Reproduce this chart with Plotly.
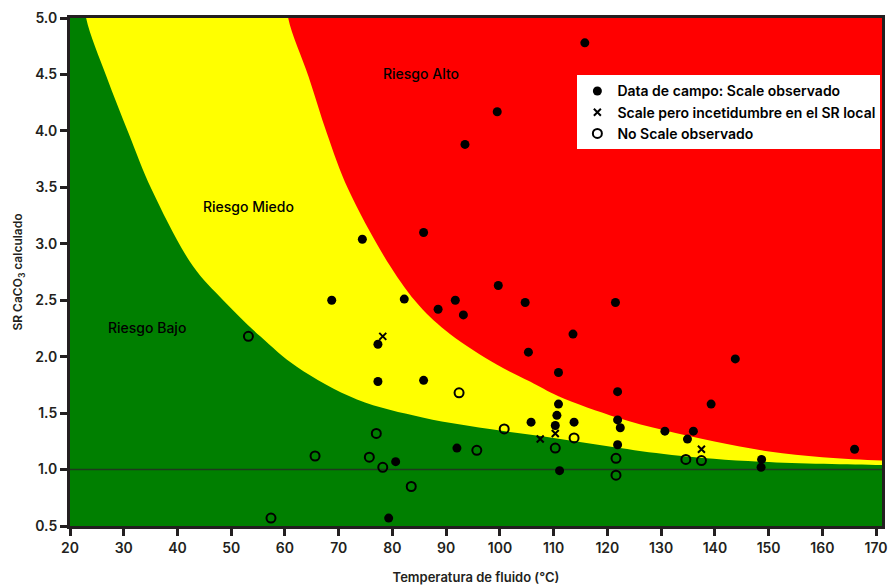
import plotly.graph_objects as go

# Field data: temperature (°C) vs calculated CaCO3 saturation ratio
scale_x = [115.8, 99.5, 93.5, 85.8, 74.4, 68.7, 82.2, 91.7, 88.5, 93.2, 99.7, 104.7,
           121.5, 113.6, 105.3, 77.3, 143.8, 110.9, 77.3, 85.8, 121.9, 139.3, 110.9,
           110.6, 105.8, 113.8, 110.3, 121.9, 122.4, 130.7, 136.0, 134.9, 121.9, 92.0,
           80.6, 111.1, 148.7, 148.6, 166.0, 79.3]
scale_y = [4.78, 4.17, 3.88, 3.10, 3.04, 2.50, 2.51, 2.50, 2.42, 2.37, 2.63, 2.48,
           2.48, 2.20, 2.04, 2.11, 1.98, 1.86, 1.78, 1.79, 1.69, 1.58, 1.58,
           1.48, 1.42, 1.42, 1.39, 1.44, 1.37, 1.34, 1.34, 1.27, 1.22, 1.19,
           1.07, 0.99, 1.09, 1.02, 1.18, 0.57]

uncertain_x = [78.2, 107.5, 110.3, 137.5]
uncertain_y = [2.18, 1.27, 1.32, 1.18]

noscale_x = [53.2, 57.4, 65.6, 77.0, 75.7, 78.2, 83.5, 92.4, 95.7, 100.8, 110.3, 113.8,
             121.6, 121.6, 134.6, 137.5]
noscale_y = [2.18, 0.57, 1.12, 1.32, 1.11, 1.02, 0.85, 1.68, 1.17, 1.36, 1.19, 1.28,
             1.10, 0.95, 1.09, 1.08]

# Risk-zone boundaries
low_bound_x = [23.0, 26.8, 30.9, 35.2, 42.9, 48.5, 55.4, 62.2, 73.4, 85.8, 99.4,
               110.0, 121.0, 132.0, 148.4, 172.0]
low_bound_y = [5.00, 4.48, 3.98, 3.48, 2.80, 2.50, 2.18, 1.91, 1.62, 1.46, 1.35,
               1.28, 1.20, 1.13, 1.07, 1.04]
high_bound_x = [60.6, 64.4, 67.8, 71.8, 79.6, 85.0, 90.7, 99.4, 105.6, 110.9, 121.9,
                130.4, 139.7, 150.1, 160.0, 172.0]
high_bound_y = [5.00, 4.48, 3.98, 3.48, 2.80, 2.45, 2.20, 1.93, 1.78, 1.65, 1.46,
                1.35, 1.25, 1.16, 1.11, 1.08]

SR_EQUILIBRIUM = 1.0
X_RANGE = [20, 171.1]
Y_RANGE = [0.5, 5.0]
X_TICKS = list(range(20, 171, 10))
Y_TICKS = [0.5, 1.0, 1.5, 2.0, 2.5, 3.0, 3.5, 4.0, 4.5, 5.0]

zone_labels = ["Riesgo Alto", "Riesgo Miedo", "Riesgo Bajo"]
zone_label_x = [85.3, 53.3, 34.3]
zone_label_y = [4.51, 3.33, 2.26]

GREEN = "#007f00"
YELLOW = "#ffff00"
RED = "#ff0000"
INK = "#231f20"
FONT = "Inter"
TOP = 5.3

fig = go.Figure()

# Yellow zone: between top edge and lower boundary
fig.add_trace(go.Scatter(x=[low_bound_x[0], 180], y=[TOP, TOP], mode="lines",
                         line=dict(width=0), showlegend=False, hoverinfo="skip"))
fig.add_trace(go.Scatter(x=[low_bound_x[0] - 0.6] + low_bound_x + [180],
                         y=[TOP] + low_bound_y + [low_bound_y[-1]],
                         mode="lines", line=dict(width=0, shape="spline", smoothing=1.0),
                         fill="tonexty", fillcolor=YELLOW, showlegend=False, hoverinfo="skip"))
# Red zone: between top edge and upper boundary
fig.add_trace(go.Scatter(x=[high_bound_x[0], 180], y=[TOP, TOP], mode="lines",
                         line=dict(width=0), showlegend=False, hoverinfo="skip"))
fig.add_trace(go.Scatter(x=[high_bound_x[0] - 0.5] + high_bound_x + [180],
                         y=[TOP] + high_bound_y + [high_bound_y[-1]],
                         mode="lines", line=dict(width=0, shape="spline", smoothing=1.0),
                         fill="tonexty", fillcolor=RED, showlegend=False, hoverinfo="skip"))

# SR = 1 reference line
fig.add_trace(go.Scatter(x=[10, 180], y=[SR_EQUILIBRIUM, SR_EQUILIBRIUM], mode="lines",
                         line=dict(color="#1e3a1e", width=1.5), showlegend=False,
                         hoverinfo="skip"))

fig.add_trace(go.Scatter(x=scale_x, y=scale_y, mode="markers",
                         name="Data de campo: Scale observado", legendgroup="a",
                         marker=dict(symbol="circle", size=9, color="black")))
fig.add_trace(go.Scatter(x=uncertain_x, y=uncertain_y, mode="markers",
                         name="Scale pero incetidumbre en el SR local", legendgroup="b",
                         marker=dict(symbol="x-thin", size=7, color="black",
                                     line=dict(width=2, color="black"))))
fig.add_trace(go.Scatter(x=noscale_x, y=noscale_y, mode="markers",
                         name="No Scale observado", legendgroup="c",
                         marker=dict(symbol="circle-open", size=9, color="black",
                                     line=dict(width=2, color="black"))))

for txt, lx, ly in zip(zone_labels, zone_label_x, zone_label_y):
    fig.add_annotation(x=lx, y=ly, text=txt, showarrow=False,
                       font=dict(family=FONT, size=14, color="black", weight=500))

axis_common = dict(showline=True, linecolor=INK, linewidth=3, mirror=True,
                   ticks="outside", ticklen=7, tickwidth=3, tickcolor=INK,
                   showgrid=False, zeroline=False, automargin=False,
                   tickfont=dict(family=FONT, size=14, color=INK, weight=600))

fig.update_xaxes(range=X_RANGE, tickvals=X_TICKS, **axis_common,
                 title=dict(text="Temperatura de fluido (°C)", standoff=22,
                            font=dict(family=FONT, size=13, color=INK, weight=600)))
fig.update_yaxes(range=Y_RANGE, tickvals=Y_TICKS, tickformat=".1f", **axis_common,
                 title=dict(text="SR CaCO<sub>3</sub> calculado", standoff=10,
                            font=dict(family=FONT, size=12, color=INK, weight=600)))

fig.update_layout(
    width=890, height=585,
    margin=dict(l=70, r=8, t=18, b=59, autoexpand=False),
    plot_bgcolor=GREEN, paper_bgcolor="white",
    legend=dict(x=0.998, y=0.887, xanchor="right", yanchor="top",
                bgcolor="white", borderwidth=0, itemwidth=30, tracegroupgap=6,
                traceorder="normal",
                font=dict(family=FONT, size=14, color="black", weight=600)),
    showlegend=True,
)

fig.write_html("out.html")
